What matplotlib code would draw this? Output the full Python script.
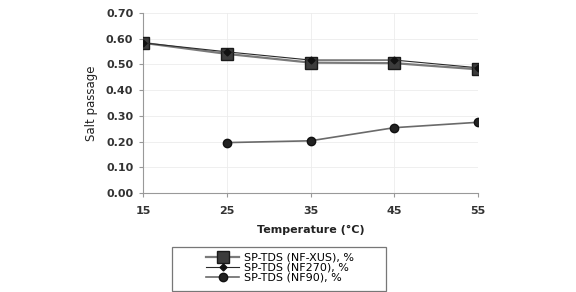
import matplotlib
matplotlib.use("Agg")
import matplotlib.pyplot as plt
from matplotlib.patches import Rectangle

temps = [15, 25, 35, 45, 55]
sp_xus = [0.584, 0.541, 0.507, 0.505, 0.481]
sp_nf270 = [0.584, 0.549, 0.517, 0.517, 0.487]
temps_nf90 = [25, 35, 45, 55]
sp_nf90 = [0.196, 0.203, 0.254, 0.275]
yticks = [0.0, 0.1, 0.2, 0.3, 0.4, 0.5, 0.6, 0.7]

plt.rcParams["font.family"] = ["DejaVu Sans"]

fig = plt.figure(figsize=(5.76, 2.92), dpi=100)
ax = fig.add_axes([143 / 576, 1 - 193 / 292, 335 / 576, 180 / 292])

ax.plot(temps, sp_xus, color="#7a7a7a", lw=1.6, marker="s", ms=8.5,
        mfc="#3c3c3c", mec="#1a1a1a", label="SP-TDS (NF-XUS), %", zorder=3)
ax.plot(temps, sp_nf270, color="#2a2a2a", lw=0.8, marker="D", ms=3.5,
        mfc="#111111", mec="#111111", label="SP-TDS (NF270), %", zorder=4)
ax.plot(temps_nf90, sp_nf90, color="#6a6a6a", lw=1.2, marker="o", ms=6,
        mfc="#222222", mec="#111111", label="SP-TDS (NF90), %", zorder=3)

ax.set_xlim(15, 55)
ax.set_ylim(0, 0.70)
ax.set_xticks(temps)
ax.set_yticks(yticks)
ax.set_yticklabels([f"{v:.2f}" for v in yticks])
ax.grid(True, color="#ececec", lw=0.6)
for side in ["top", "right"]:
    ax.spines[side].set_visible(False)
ax.spines["left"].set_color("#999999")
ax.spines["bottom"].set_color("#999999")
ax.tick_params(length=3, color="#999999", labelcolor="#333333")
ax.tick_params(axis="x", pad=6)
ax.tick_params(axis="y", pad=4)
for lab in ax.get_xticklabels() + ax.get_yticklabels():
    lab.set_fontsize(8)
    lab.set_fontweight("bold")
ax.set_xlabel("Temperature (°C)", fontsize=8, fontweight="bold",
              color="#222222", labelpad=7)
ax.set_ylabel("Salt passage", fontsize=8.5, color="#222222", labelpad=6)

# legend box drawn separately so it spans like the original
fig.patches.append(Rectangle((172 / 576, 1 - 291 / 292), 214 / 576, 44 / 292,
                             transform=fig.transFigure, fill=False,
                             edgecolor="#777777", lw=0.9))
fig.legend(loc="center", bbox_to_anchor=(280 / 576, 1 - 268 / 292),
           fontsize=8, frameon=False, handlelength=3.0,
           handletextpad=0.4, borderpad=0.0, labelspacing=0.0)

fig.savefig("out.png", dpi=100)
